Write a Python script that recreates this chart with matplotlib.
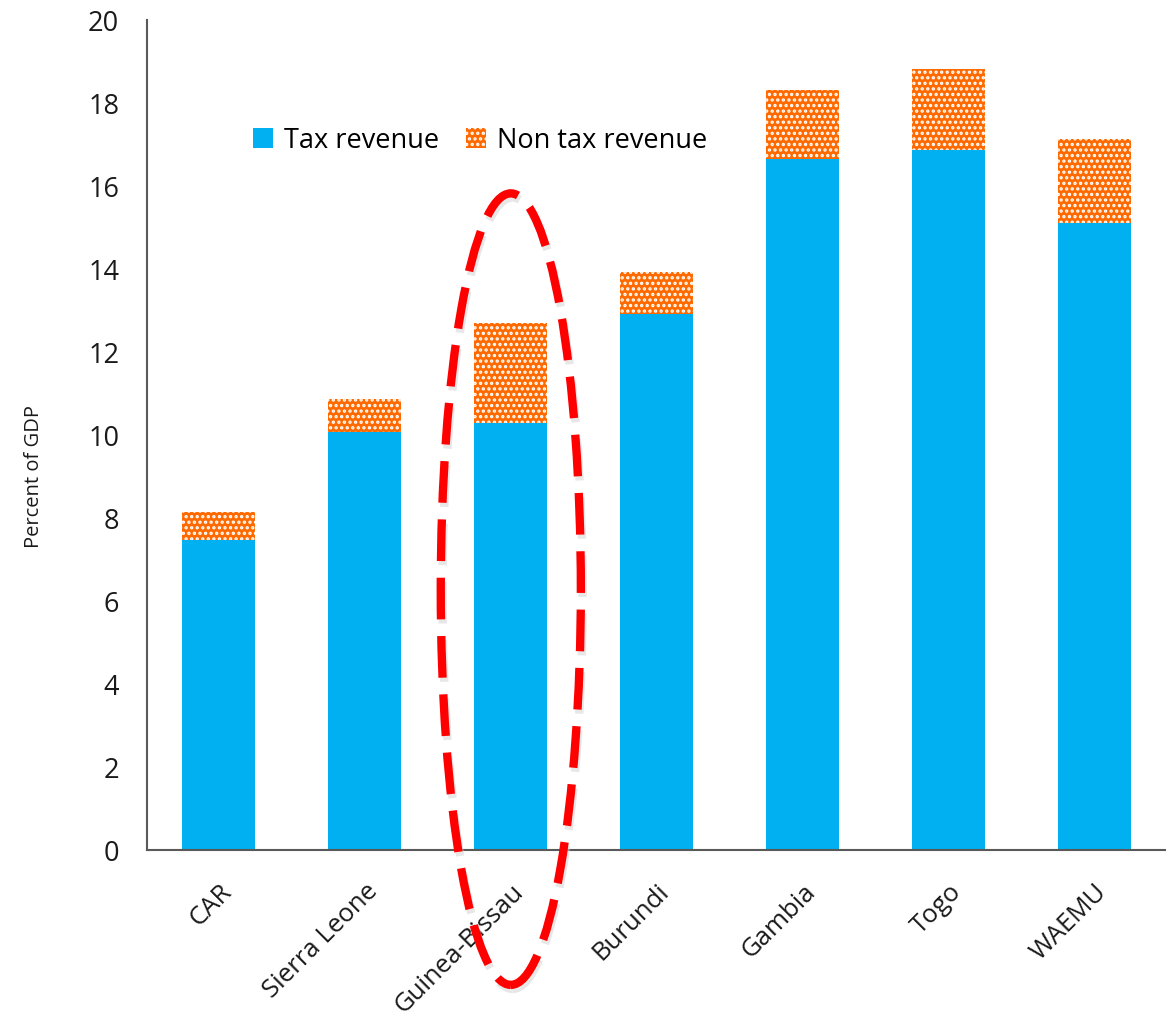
import matplotlib
matplotlib.use("Agg")
import matplotlib.pyplot as plt
from matplotlib.patches import Ellipse

plt.rcParams['font.family'] = ['Open Sans', 'DejaVu Sans']
plt.rcParams['hatch.linewidth'] = 1.6
plt.rcParams['hatch.color'] = 'white'

countries = ["CAR", "Sierra Leone", "Guinea-Bissau", "Burundi", "Gambia", "Togo", "WAEMU"]
tax_revenue = [7.47, 10.07, 10.29, 12.92, 16.67, 16.87, 15.11]
non_tax_revenue = [0.67, 0.80, 2.41, 1.01, 1.64, 1.95, 2.02]

blue = "#00B0F0"
orange = "#FF6A00"
text_color = '#1a1a1a'

fig = plt.figure(figsize=(11.74, 10.19), dpi=100)
ax = fig.add_axes([0.1252, 0.1658, 0.992 - 0.1252, 0.980 - 0.1658])

x = list(range(len(countries)))
ax.bar(x, tax_revenue, width=0.5, color=blue, label="Tax revenue", zorder=2)
ax.bar(x, non_tax_revenue, width=0.5, bottom=tax_revenue, facecolor=orange,
       edgecolor='white', hatch='...', linewidth=0, label="Non tax revenue", zorder=2)

ax.set_xlim(-0.493, 6.48)
ax.set_ylim(0, 20)
ax.set_yticks(range(0, 21, 2))
ax.set_xticks(x)
ax.set_xticklabels(countries, rotation=45, ha='right', rotation_mode='anchor', fontsize=18.5, color=text_color)
ax.tick_params(axis='x', length=0, labelsize=18.5, colors=text_color, pad=21)
ax.tick_params(axis='y', length=0, labelsize=19.5, colors=text_color, pad=20)

for s in ['top', 'right']:
    ax.spines[s].set_visible(False)
for s in ['left', 'bottom']:
    ax.spines[s].set_color('#595959')
    ax.spines[s].set_linewidth(1.5)

ax.set_ylabel("Percent of GDP", fontsize=14.5, color=text_color)
ax.yaxis.set_label_coords(-0.101, 0.45)

leg = ax.legend(loc='center left', bbox_to_anchor=(0.104, 0.855), ncol=2, frameon=False,
                fontsize=19.5, handlelength=0.75, handleheight=0.75, handletextpad=0.4,
                columnspacing=1.0, borderaxespad=0, borderpad=0)

# highlight ring around Guinea-Bissau
cx, cy = 2, 6.29
dash = (0, (5.0, 2.0))
shadow = Ellipse((cx + 0.012, cy - 0.1), 0.96, 19.08, fill=False, edgecolor='#d0d0d0',
                 linewidth=6, linestyle=dash, clip_on=False, zorder=4, alpha=0.5)
ax.add_patch(shadow)
ring = Ellipse((cx, cy), 0.96, 19.08, fill=False, edgecolor='#FF0000',
               linewidth=6, linestyle=dash, clip_on=False, zorder=5)
ax.add_patch(ring)

fig.savefig("out.png", dpi=100)
